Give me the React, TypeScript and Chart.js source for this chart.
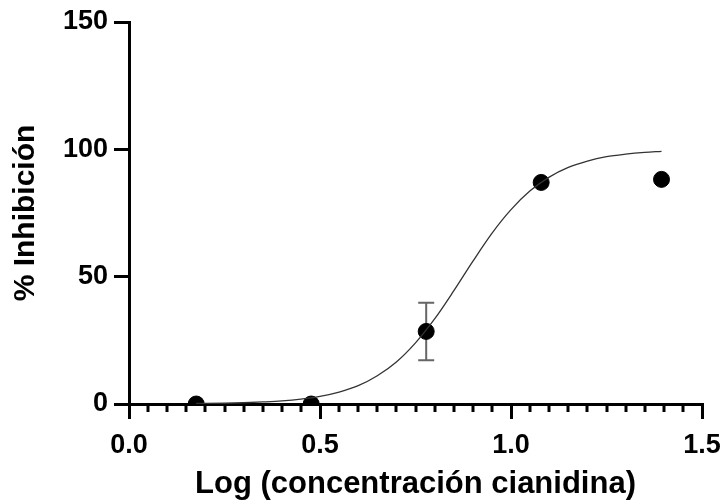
import React, { useEffect, useRef } from "react";
import { Chart, registerables } from "chart.js";

Chart.register(...registerables);

// Observed data (log concentration vs % inhibition)
const doseLog = [0.176, 0.477, 0.778, 1.079, 1.394];
const inhibition = [0, 0, 28.5, 87, 88.2];
const inhibitionSd = [0, 0, 11.3, 0, 0];

// Fitted curve
const curveX = [0.176, 0.25, 0.3, 0.35, 0.4, 0.45, 0.5, 0.55, 0.6, 0.65, 0.7, 0.75, 0.8, 0.85, 0.9, 0.95, 1.0, 1.05, 1.1, 1.15, 1.2, 1.25, 1.3, 1.35, 1.394];
const curveY = [0.2, 0.3, 0.5, 0.8, 1.2, 1.9, 3.0, 4.7, 7.2, 11.1, 16.5, 24.0, 33.4, 44.4, 56.0, 67.0, 76.3, 83.7, 89.1, 92.9, 95.4, 97.1, 98.1, 98.8, 99.2];

const xTicks = [0, 0.5, 1.0, 1.5];
const yTicks = [0, 50, 100, 150];
const xTitle = "Log (concentración cianidina)";
const yTitle = "% Inhibición";

const FONT = "'Liberation Sans', Arial, sans-serif";

const errorBars = {
  id: "errorBars",
  beforeDatasetsDraw(chart: any) {
    const { ctx } = chart;
    const xs = chart.scales.x;
    const ys = chart.scales.y;
    ctx.save();
    ctx.strokeStyle = "#666";
    ctx.lineWidth = 2;
    doseLog.forEach((d, i) => {
      const sd = inhibitionSd[i];
      if (!sd) return;
      const px = xs.getPixelForValue(d);
      const top = ys.getPixelForValue(inhibition[i] + sd);
      const bot = ys.getPixelForValue(inhibition[i] - sd);
      ctx.beginPath();
      ctx.moveTo(px, top);
      ctx.lineTo(px, bot);
      ctx.moveTo(px - 8, top);
      ctx.lineTo(px + 8, top);
      ctx.moveTo(px - 8, bot);
      ctx.lineTo(px + 8, bot);
      ctx.stroke();
    });
    ctx.restore();
  },
};

const minorTicks = {
  id: "minorTicks",
  afterDraw(chart: any) {
    const { ctx } = chart;
    const xs = chart.scales.x;
    const y0 = chart.chartArea.bottom;
    ctx.save();
    ctx.strokeStyle = "#000";
    ctx.lineWidth = 3;
    for (let k = 1; k < 30; k++) {
      if (k % 10 === 0) continue;
      const px = Math.round(xs.getPixelForValue(k * 0.05));
      ctx.beginPath();
      ctx.moveTo(px, y0);
      ctx.lineTo(px, y0 + 8);
      ctx.stroke();
    }
    ctx.restore();
  },
};

export default function App() {
  const ref = useRef<HTMLCanvasElement>(null);
  useEffect(() => {
    document.body.style.margin = "0";
    const chart = new Chart(ref.current as HTMLCanvasElement, {
      type: "scatter",
      data: {
        datasets: [
          {
            type: "line",
            data: curveX.map((x, i) => ({ x, y: curveY[i] })),
            borderColor: "#333",
            borderWidth: 1.3,
            pointRadius: 0,
            cubicInterpolationMode: "monotone",
            fill: false,
          } as any,
          {
            data: doseLog.map((x, i) => ({ x, y: inhibition[i] })),
            backgroundColor: "#000",
            borderColor: "#000",
            pointRadius: 8,
            pointHoverRadius: 8,
          },
        ],
      },
      options: {
        animation: false,
        responsive: false,
        devicePixelRatio: 1,
        layout: { autoPadding: false, padding: { top: 22, right: 21, left: 0, bottom: 0 } },
        plugins: { legend: { display: false }, tooltip: { enabled: false } },
        scales: {
          x: {
            type: "linear",
            min: 0,
            max: 1.5,
            afterBuildTicks: (s: any) => {
              s.ticks = xTicks.map((v) => ({ value: v }));
            },
            afterFit: (s: any) => {
              s.height = 99;
              s.paddingLeft = 0;
              s.paddingRight = 0;
            },
            ticks: {
              color: "#000",
              font: { family: FONT, size: 27, weight: "bold" },
              padding: 10,
              callback: (v: any) => Number(v).toFixed(1),
              maxRotation: 0,
            },
            grid: {
              drawOnChartArea: false,
              drawTicks: true,
              tickLength: 15,
              tickWidth: 3,
              color: "#000",
              lineWidth: 3,
            },
            border: { color: "#000", width: 3 },
            title: {
              display: true,
              text: xTitle,
              color: "#000",
              font: { family: FONT, size: 31, weight: "bold" },
              padding: { bottom: 0, top: 0 },
            },
          },
          y: {
            type: "linear",
            min: 0,
            max: 150,
            afterBuildTicks: (s: any) => {
              s.ticks = yTicks.map((v) => ({ value: v }));
            },
            afterFit: (s: any) => {
              s.width = 129;
              s.paddingTop = 0;
              s.paddingBottom = 0;
            },
            ticks: {
              color: "#000",
              font: { family: FONT, size: 27, weight: "bold" },
              padding: 6,
            },
            grid: {
              drawOnChartArea: false,
              drawTicks: true,
              tickLength: 15,
              tickWidth: 3,
              color: "#000",
              lineWidth: 3,
            },
            border: { color: "#000", width: 3 },
            title: {
              display: true,
              text: yTitle,
              color: "#000",
              font: { family: FONT, size: 30, weight: "bold" },
              padding: { top: 8, bottom: 0 },
            },
          },
        },
      },
      plugins: [errorBars, minorTicks],
    });
    return () => chart.destroy();
  }, []);
  return <canvas ref={ref} width={723} height={503} />;
}
